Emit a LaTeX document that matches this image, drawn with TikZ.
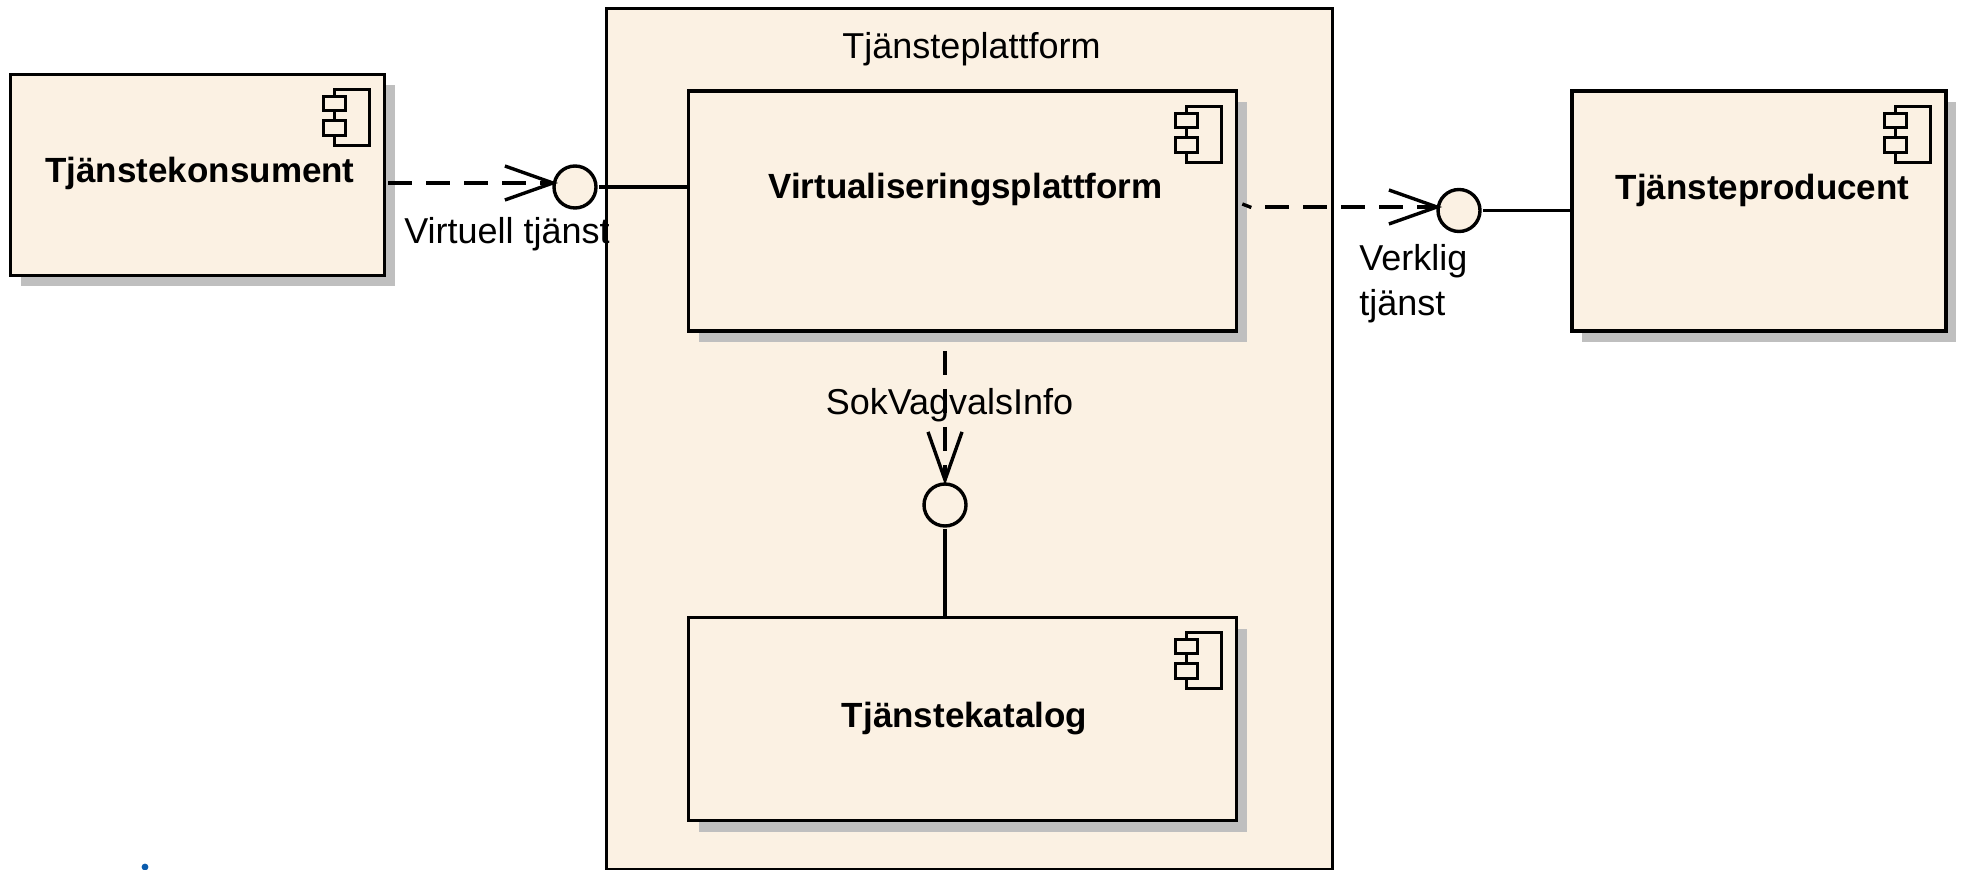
\documentclass[tikz,border=0pt]{standalone}
\usepackage{fontspec}
\setmainfont{Liberation Sans}
\usetikzlibrary{arrows.meta,shadows,calc}
\definecolor{kropp}{HTML}{FBF1E3}
\definecolor{skugga}{HTML}{BFBFBF}
\definecolor{punkt}{HTML}{0B5CAD}
\tikzset{
  komponent/.style={draw=black,line width=1.8pt,fill=kropp,inner sep=0pt,
    drop shadow={shadow xshift=5pt,shadow yshift=-5.5pt,fill=skugga,opacity=1}},
  granssnitt/.style={circle,draw=black,line width=1.7pt,fill=kropp,
    minimum size=21pt,inner sep=0pt,outer sep=1.5pt},
  rubrik/.style={font=\fontsize{17.5}{21}\selectfont\bfseries,anchor=base,inner sep=0pt},
  etikett/.style={font=\fontsize{18}{22.5}\selectfont,anchor=base,inner sep=0pt},
  beroende/.style={line width=1.7pt,dash pattern=on 12pt off 7pt,
    -{Straight Barb[length=24pt,width=17pt]}},
  koppling/.style={line width=1.7pt}
}
\newcommand{\komponentikon}[1]{
  \begin{scope}[shift={(#1.north east)},line width=1.6pt]
    \draw (-52,17) rectangle (-17,73);
    \draw[fill=kropp] (-63,24) rectangle (-41,38);
    \draw[fill=kropp] (-63,48) rectangle (-41,63);
  \end{scope}
}

\begin{document}
\begin{tikzpicture}[x=0.5pt,y=-0.5pt]
  \useasboundingbox (0,0) rectangle (1962,870);

  % Plattformen
  \node[draw=black,line width=1.5pt,fill=kropp,inner sep=0pt,minimum width=363pt,minimum height=430pt] (plattform) at (969.5,439) {};
  \node[etikett] (plattformtext) at (971.5,59) {Tjänsteplattform};

  % Komponenter
  \node[komponent,minimum width=187pt,minimum height=100.5pt] (konsument) at (197.5,175) {};
  \node[komponent,minimum width=274pt,minimum height=120pt] (virtualisering) at (962.5,211) {};
  \node[komponent,minimum width=274pt,minimum height=101.5pt] (katalog) at (962.5,719) {};
  \node[komponent,minimum width=187pt,minimum height=120pt] (producent) at (1759,211) {};
  \foreach \namn in {konsument,virtualisering,katalog,producent}
    \komponentikon{\namn};

  \node[rubrik] (konsumenttext) at (200,183) {Tjänstekonsument};
  \node[rubrik] (virtualiseringtext) at (965.5,199) {Virtualiseringsplattform};
  \node[rubrik] (katalogtext) at (964.5,727) {Tjänstekatalog};
  \node[rubrik] (producenttext) at (1762.5,199.5) {Tjänsteproducent};

  % Gränssnitt
  \node[granssnitt] (virtuell) at (575,187) {};
  \node[granssnitt] (verklig) at (1459,210.5) {};
  \node[granssnitt] (sokvag) at (945,505) {};

  % Kopplingar
  \draw[koppling] (virtuell.east) -- (virtuell.east -| virtualisering.west);
  \draw[koppling] (verklig.east) -- (verklig.east -| producent.west);
  \draw[koppling] (sokvag.south) -- (sokvag.south |- katalog.north);

  % Beroenden
  \draw[beroende] ([shift={(2,8)}]konsument.east) -- ([shift={(7,-4)}]virtuell.west);
  \draw[koppling] ([shift={(4,-7)}]virtualisering.east) -- ([shift={(13,-3.5)}]virtualisering.east);
  \draw[beroende] ([shift={(27,-4)}]virtualisering.east) -- ([shift={(7,-3.5)}]verklig.west);
  \draw[beroende] ([yshift=-9pt]sokvag.north |- virtualisering.south) -- ([yshift=-2pt]sokvag.north);

  % Etiketter
  \node[etikett] (virtuelltext) at (507,244) {Virtuell tjänst};
  \node[etikett,anchor=base west,align=left] (verkligtext) at (1359,316) {Verklig\\tjänst};
  \node[etikett] (sokvagtext) at (949.5,415) {SokVagvalsInfo};

  % Punkt
  \fill[punkt] (145,867) circle (1.7pt);
\end{tikzpicture}
\end{document}
